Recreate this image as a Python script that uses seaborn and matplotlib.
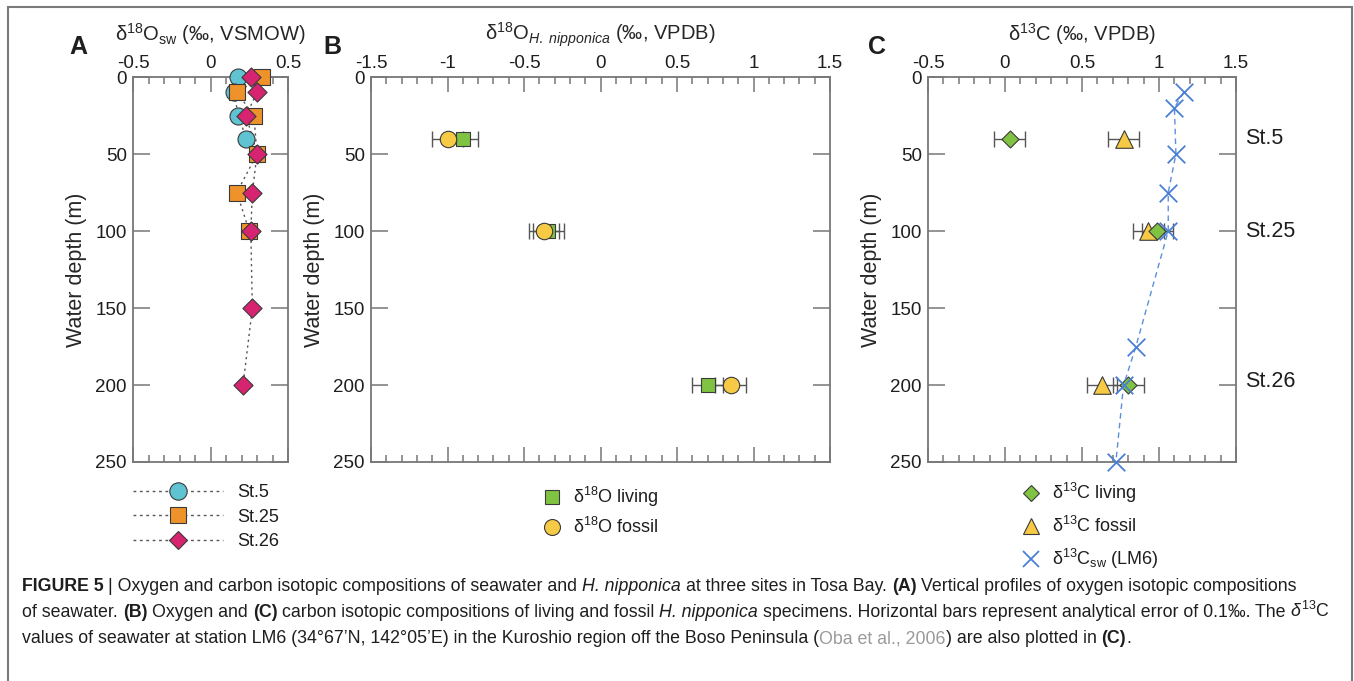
import numpy as np
import pandas as pd
import matplotlib
matplotlib.use("Agg")
import matplotlib.pyplot as plt
import seaborn as sns
from matplotlib import font_manager
from matplotlib.lines import Line2D
from matplotlib.patches import Rectangle
from matplotlib.ticker import MultipleLocator, NullLocator, FuncFormatter
from matplotlib.transforms import blended_transform_factory

# --- Panel A: seawater d18O profiles (per mil, VSMOW) ---
st5_depth = [0, 10, 25, 40]
st5_d18o = [0.18, 0.15, 0.18, 0.23]
st25_depth = [0, 10, 25, 50, 75, 100]
st25_d18o = [0.33, 0.17, 0.28, 0.30, 0.17, 0.25]
st26_depth = [0, 10, 25, 50, 75, 100, 150, 200]
st26_d18o = [0.26, 0.30, 0.23, 0.30, 0.27, 0.26, 0.27, 0.21]

# --- Panel B: H. nipponica d18O (per mil, VPDB) ---
b_depth = [40, 100, 200]
b_living = [-0.90, -0.34, 0.70]
b_fossil = [-1.00, -0.37, 0.85]

# --- Panel C: d13C (per mil, VPDB) ---
c_depth = [40, 100, 200]
c_living = [0.03, 0.99, 0.80]
c_fossil = [0.77, 0.93, 0.63]
lm6_depth = [10, 20, 50, 75, 100, 175, 200, 250]
lm6_d13c = [1.16, 1.10, 1.11, 1.06, 1.06, 0.85, 0.77, 0.72]

station_labels = ["St.5", "St.25", "St.26"]
station_depths = [40, 100, 198]
analytical_error = 0.1

W, H = 1354, 681
CYAN, ORANGE, MAGENTA = "#5fc3d1", "#f0922b", "#d62470"
GREEN, YELLOW, BLUE = "#80c241", "#f6ca44", "#4a7fd6"
EDGE, SPINE, TXT = "#3a3a3a", "#777777", "#1e1e1e"

sns.set_theme(style="white")
names = {f.name for f in font_manager.fontManager.ttflist}
base_font = "Liberation Sans" if "Liberation Sans" in names else "DejaVu Sans"
narrow_font = "Liberation Sans Narrow" if "Liberation Sans Narrow" in names else base_font
plt.rcParams.update({
    "font.family": [base_font, "DejaVu Sans"],
    "mathtext.fontset": "custom",
    "mathtext.rm": base_font,
    "mathtext.it": base_font + ":italic",
    "mathtext.bf": base_font + ":bold",
    "axes.unicode_minus": False,
    "text.color": TXT,
    "xtick.color": SPINE,
    "ytick.color": SPINE,
    "xtick.labelcolor": TXT,
    "ytick.labelcolor": TXT,
})


def fx(px):
    return px / W


def fy(py):
    return 1 - py / H


def style_axis(ax, xmin, xmax, xlabel):
    ax.set_xlim(xmin, xmax)
    ax.set_ylim(250, 0)
    ax.xaxis.set_major_locator(MultipleLocator(0.5))
    ax.xaxis.set_minor_locator(MultipleLocator(0.1))
    ax.yaxis.set_major_locator(MultipleLocator(50))
    ax.yaxis.set_minor_locator(NullLocator())
    ax.xaxis.set_major_formatter(FuncFormatter(lambda v, p: "0" if abs(v) < 1e-9 else f"{v:g}"))
    ax.tick_params(axis="x", which="both", direction="in", top=True, bottom=True,
                   labeltop=True, labelbottom=False, width=1.1, labelsize=13.5, pad=3.5)
    ax.tick_params(axis="x", which="major", length=11)
    ax.tick_params(axis="x", which="minor", length=5)
    ax.tick_params(axis="y", which="major", direction="in", left=True, right=True,
                   length=12, width=1.1, labelsize=13.5, pad=4.5)
    for sp in ax.spines.values():
        sp.set_color(SPINE)
        sp.set_linewidth(1.3)
    ax.xaxis.set_label_position("top")
    ax.set_xlabel(xlabel, fontsize=14.5, labelpad=10.5)
    ax.set_ylabel("Water depth (m)", fontsize=15.5, labelpad=6)
    ax.grid(False)


fig = plt.figure(figsize=(W / 100, H / 100), dpi=100)
axA = fig.add_axes([fx(133), fy(462), 155 / W, 385 / H])
axB = fig.add_axes([fx(371), fy(462), 459 / W, 385 / H])
axC = fig.add_axes([fx(928), fy(462), 308 / W, 385 / H])

# ---------- Panel A ----------
dotted = (0, (1.6, 2.6))
stations = [
    (st5_d18o, st5_depth, "o", CYAN, 150),
    (st25_d18o, st25_depth, "s", ORANGE, 140),
    (st26_d18o, st26_depth, "D", MAGENTA, 95),
]
for vals, deps, _, _, _ in stations:
    sns.lineplot(x=vals, y=deps, sort=False, estimator=None, color="#555555",
                 linewidth=1.0, linestyle=dotted, ax=axA, zorder=1)
for i, (vals, deps, mk, col, sz) in enumerate(stations):
    sns.scatterplot(x=vals, y=deps, marker=mk, s=sz, color=col, edgecolor=EDGE,
                    linewidth=0.8, ax=axA, zorder=3 + i, clip_on=False)
style_axis(axA, -0.5, 0.5, "δ$^{18}$O$_{\\rm sw}$ (‰, VSMOW)")

handlesA = [Line2D([0], [0], color="#555555", lw=1.0, ls=(0, (2, 2.6)), marker=mk,
                   ms=ms, mfc=col, mec=EDGE, mew=0.8)
            for (_, _, mk, col, _), ms in zip(stations, [12.5, 11.5, 9.5])]
fig.legend(handlesA, station_labels, loc="upper left", bbox_to_anchor=(fx(133), fy(484)),
           frameon=False, fontsize=13, handlelength=5.0, handletextpad=0.75,
           labelspacing=0.42, borderpad=0, borderaxespad=0)

# ---------- Panel B ----------
axB.errorbar(b_living, b_depth, xerr=analytical_error, fmt="none", ecolor="#555555",
             elinewidth=1.0, capsize=6, capthick=1.0, zorder=2)
axB.errorbar(b_fossil, b_depth, xerr=analytical_error, fmt="none", ecolor="#555555",
             elinewidth=1.0, capsize=6, capthick=1.0, zorder=2)
sns.scatterplot(x=b_living, y=b_depth, marker="s", s=115, color=GREEN, edgecolor=EDGE,
                linewidth=0.8, ax=axB, zorder=3)
sns.scatterplot(x=b_fossil, y=b_depth, marker="o", s=140, color=YELLOW, edgecolor=EDGE,
                linewidth=0.8, ax=axB, zorder=4)
style_axis(axB, -1.5, 1.5, "δ$^{18}$O$_{\\mathit{H.\\ nipponica}}$ (‰, VPDB)")

handlesB = [Line2D([0], [0], ls="none", marker="s", ms=10.5, mfc=GREEN, mec=EDGE, mew=0.8),
            Line2D([0], [0], ls="none", marker="o", ms=11.5, mfc=YELLOW, mec=EDGE, mew=0.8)]
fig.legend(handlesB, ["δ$^{18}$O living", "δ$^{18}$O fossil"], loc="upper left",
           bbox_to_anchor=(fx(541), fy(485)), frameon=False, fontsize=13,
           handlelength=1.2, handletextpad=0.55, labelspacing=0.45, borderpad=0,
           borderaxespad=0)

# ---------- Panel C ----------
for vals in (c_fossil, c_living):
    axC.errorbar(vals, c_depth, xerr=analytical_error, fmt="none", ecolor="#555555",
                 elinewidth=1.0, capsize=6, capthick=1.0, zorder=2)
sns.scatterplot(x=c_fossil, y=c_depth, marker="^", s=160, color=YELLOW, edgecolor=EDGE,
                linewidth=0.8, ax=axC, zorder=3)
sns.scatterplot(x=c_living, y=c_depth, marker="D", s=75, color=GREEN, edgecolor=EDGE,
                linewidth=0.8, ax=axC, zorder=4)
sns.lineplot(x=lm6_d13c, y=lm6_depth, sort=False, estimator=None, color="#5b8fdc",
             linewidth=1.0, linestyle=(0, (4, 3)), ax=axC, zorder=5)
sns.scatterplot(x=lm6_d13c, y=lm6_depth, marker="x", s=160, color=BLUE, edgecolor=BLUE,
                linewidth=1.3, ax=axC, zorder=6, clip_on=False)
style_axis(axC, -0.5, 1.5, "δ$^{13}$C (‰, VPDB)")

trans = blended_transform_factory(axC.transAxes, axC.transData)
for lab, dep in zip(station_labels, station_depths):
    axC.text(1.03, dep, lab, transform=trans, ha="left", va="center", fontsize=15.5)

handlesC = [Line2D([0], [0], ls="none", marker="D", ms=8.5, mfc=GREEN, mec=EDGE, mew=0.8),
            Line2D([0], [0], ls="none", marker="^", ms=12, mfc=YELLOW, mec=EDGE, mew=0.8),
            Line2D([0], [0], ls="none", marker="x", ms=12, mec=BLUE, mew=1.3)]
fig.legend(handlesC, ["δ$^{13}$C living", "δ$^{13}$C fossil", "δ$^{13}$C$_{\\rm sw}$ (LM6)"],
           loc="upper left", bbox_to_anchor=(fx(1020), fy(481)), frameon=False,
           fontsize=13, handlelength=1.2, handletextpad=0.55, labelspacing=0.6,
           borderpad=0, borderaxespad=0)

# panel letters
for letter, px in zip("ABC", [78, 332, 877]):
    fig.text(fx(px), fy(47), letter, fontsize=18, weight="bold", ha="center", va="center")

# figure frame
fig.add_artist(Rectangle((fx(8), -0.05), (1352 - 8) / W, fy(7) + 0.05, transform=fig.transFigure,
                         fill=False, edgecolor="#7a7a7a", linewidth=1.5, clip_on=False))

# ---------- caption ----------
renderer = fig.canvas.get_renderer()
bold = dict(weight="bold")
ital = dict(style="italic")
norm = dict()
gray = dict(color="#9a9a9a")
cap_lines = [
    [("FIGURE 5 ", bold), ("| Oxygen and carbon isotopic compositions of seawater and ", norm),
     ("H. nipponica", ital), (" at three sites in Tosa Bay. ", norm), ("(A)", bold),
     (" Vertical profiles of oxygen isotopic compositions", norm)],
    [("of seawater. ", norm), ("(B)", bold), (" Oxygen and ", norm), ("(C)", bold),
     (" carbon isotopic compositions of living and fossil ", norm), ("H. nipponica", ital),
     (" specimens. Horizontal bars represent analytical error of 0.1‰. The ", norm),
     ("$\\delta^{13}$C", norm)],
    [("values of seawater at station LM6 (34°67’N, 142°05’E) in the Kuroshio region off the Boso Peninsula (", norm),
     ("Oba et al., 2006", gray), (") are also plotted in ", norm), ("(C)", bold), (".", norm)],
]


def text_width(s, size, kw):
    t = fig.text(0, 0, s, fontsize=size, family=[narrow_font, "DejaVu Sans"], **kw)
    w = t.get_window_extent(renderer).width
    t.remove()
    return w


def draw_line(parts, x0, y0, size, draw=True):
    x = x0
    for s, kw in parts:
        space = text_width("x x", size, kw) - text_width("xx", size, kw)
        core = s.strip(" ")
        x += (len(s) - len(s.lstrip(" "))) * space
        if core:
            if draw:
                fig.text(fx(x), fy(y0), core, fontsize=size, ha="left", va="baseline",
                         family=[narrow_font, "DejaVu Sans"], **kw)
            x += text_width(core, size, kw)
        x += (len(s) - len(s.rstrip(" "))) * space
    return x - x0


natural = draw_line(cap_lines[1], 22, 617, 12, draw=False)
cap_size = min(13.5, 12 * (1337 - 22) / natural)
for parts, base in zip(cap_lines, [591, 617, 643]):
    draw_line(parts, 22, base, cap_size)

fig.savefig("out.png", dpi=100)
